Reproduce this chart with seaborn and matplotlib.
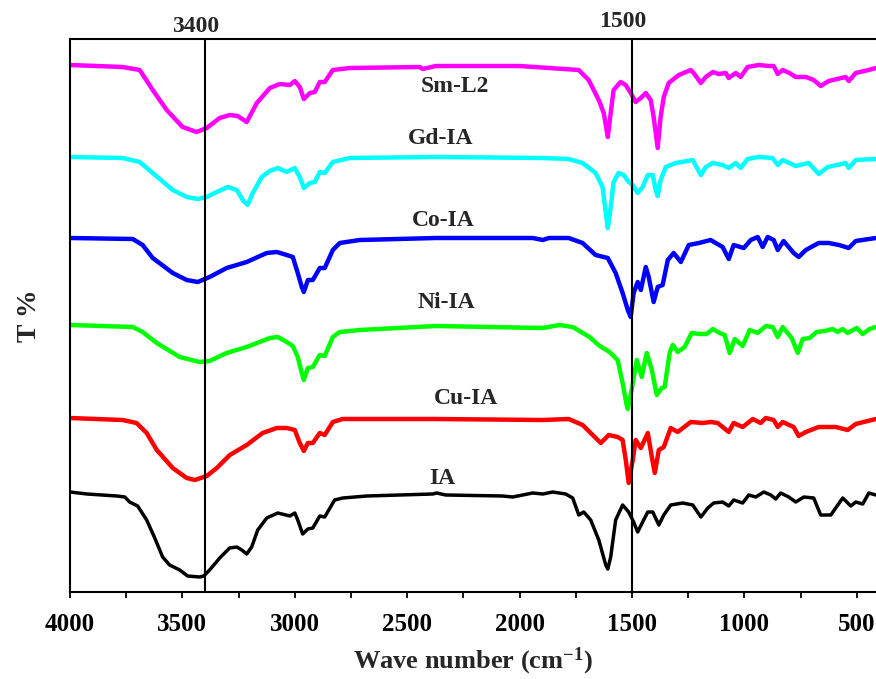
import numpy as np
import pandas as pd
import matplotlib
matplotlib.use("Agg")
import matplotlib.pyplot as plt
import seaborn as sns
from matplotlib.ticker import MultipleLocator

# FTIR spectra, transmittance in arbitrary stacked units
sm_wn = [4000, 3766, 3690, 3632, 3570, 3499, 3437, 3392, 3334, 3290, 3254, 3214, 3169, 3111, 3067, 3022,
         3000, 2978, 2960, 2933, 2911, 2889, 2867, 2831, 2755, 2444, 2431, 2373, 2000, 1737, 1693, 1648,
         1626, 1608, 1595, 1582, 1551, 1528, 1506, 1484, 1461, 1439, 1417, 1404, 1386, 1373, 1359, 1337,
         1292, 1239, 1226, 1194, 1172, 1141, 1115, 1083, 1070, 1039, 1017, 986, 937, 892, 870, 852, 830,
         800, 772, 727, 692, 661, 625, 550, 536, 505, 447, 416]
sm_t = [527, 525, 522, 502, 482, 465, 460, 464, 474, 477, 476, 470, 489, 504, 508, 507,
        511, 505, 493, 499, 500, 510, 510, 522, 524, 525, 523, 526, 526, 522, 512, 492,
        479, 455, 479, 502, 510, 507, 499, 490, 494, 499, 492, 475, 444, 475, 495, 509,
        517, 522, 519, 509, 515, 520, 518, 519, 514, 519, 515, 525, 527, 526, 526, 518, 522,
        519, 515, 515, 512, 506, 511, 515, 511, 519, 522, 524]

gd_wn = [4000, 3766, 3690, 3632, 3543, 3481, 3432, 3392, 3347, 3298, 3258, 3232, 3210, 3187, 3147, 3111,
         3076, 3036, 3000, 2978, 2960, 2933, 2911, 2889, 2867, 2831, 2755,
         2373, 1897, 1782, 1720, 1662, 1631, 1617, 1608, 1595, 1582, 1560, 1537, 1515, 1497, 1475, 1453,
         1430, 1408, 1395, 1386, 1373, 1350, 1306, 1230, 1194, 1172, 1141, 1097, 1070, 1039, 1017, 986,
         937, 875, 852, 830, 772, 714, 670, 629, 550, 536, 505, 416]
gd_t = [435, 434, 430, 419, 402, 395, 393, 395, 400, 405, 402, 392, 387, 399, 415, 421,
        424, 420, 424, 415, 404, 409, 410, 420, 419, 430, 434,
        435, 434, 433, 429, 419, 405, 379, 364, 385, 410, 419, 417, 410, 407, 399, 405,
        417, 417, 402, 396, 412, 425, 429, 432, 417, 425, 429, 427, 424, 429, 424, 433,
        435, 434, 427, 432, 426, 429, 418, 425, 429, 424, 432, 433]

co_wn = [4000, 3721, 3677, 3632, 3543, 3481, 3432, 3379, 3303, 3214, 3125, 3080, 3036, 3009, 2987, 2969,
         2960, 2942, 2920, 2889, 2867, 2831, 2800, 2711,
         2373, 1942, 1897, 1870, 1782, 1720, 1662, 1608, 1573, 1542, 1519, 1506, 1493, 1475, 1461, 1439,
         1426, 1404, 1386, 1364, 1341, 1315, 1283, 1248, 1203, 1150, 1128, 1097, 1070, 1048, 1003, 972,
         941, 919, 897, 870, 852, 826, 781, 759, 727, 670, 625, 580, 536, 505, 416]
co_t = [354, 353, 347, 334, 319, 312, 310, 315, 324, 330, 339, 340, 337, 335, 319, 305,
        300, 312, 312, 324, 324, 342, 349, 352,
        354, 354, 352, 354, 354, 349, 337, 334, 319, 299, 282, 275, 299, 310, 302, 325,
        315, 290, 305, 307, 332, 339, 330, 347, 349, 352, 349, 345, 333, 347, 344, 352,
        355, 345, 355, 352, 342, 351, 339, 335, 342, 349, 349, 347, 344, 351, 354]

ni_wn = [4000, 3721, 3677, 3614, 3512, 3423, 3379, 3303, 3214, 3111, 3076, 3036, 3009, 2987, 2969, 2960,
         2942, 2920, 2889, 2867, 2831, 2800, 2711, 2373, 1897,
         1822, 1764, 1689, 1644, 1600, 1564, 1542, 1524, 1519, 1502, 1479, 1457, 1435, 1412, 1390, 1368,
         1355, 1332, 1319, 1297, 1266, 1235, 1199, 1168, 1141, 1110, 1088, 1066, 1043, 1008, 977, 941,
         905, 874, 852, 830, 790, 763, 741, 710, 679, 643, 608, 585, 563, 541, 501, 474, 443, 416]
ni_t = [267, 265, 260, 249, 235, 230, 231, 239, 245, 254, 255, 250, 246, 235, 219, 212,
        224, 225, 237, 236, 255, 260, 262, 266, 264,
        267, 265, 255, 246, 240, 232, 209, 187, 183, 202, 232, 215, 239, 222, 197, 204,
        205, 240, 247, 240, 245, 259, 258, 258, 263, 259, 257, 239, 253, 246, 262, 259,
        266, 265, 255, 265, 254, 239, 253, 254, 260, 261, 263, 260, 263, 259, 264, 258, 263, 265]

cu_wn = [4000, 3766, 3704, 3659, 3614, 3543, 3481, 3445, 3392, 3347, 3289, 3214, 3143, 3080, 3036, 3000,
         2978, 2960, 2942, 2920, 2889, 2867, 2831, 2787,
         2373, 1897, 1782, 1720, 1675, 1639, 1604, 1564, 1542, 1528, 1515, 1497, 1484, 1461, 1430, 1412,
         1399, 1381, 1359, 1328, 1297, 1239, 1186, 1150, 1119, 1070, 1048, 1008, 963, 928, 905, 870,
         852, 830, 781, 759, 727, 670, 594, 541, 505, 416]
cu_t = [174, 172, 169, 159, 142, 124, 114, 112, 116, 124, 137, 147, 159, 164, 164, 162,
        149, 141, 149, 149, 159, 157, 170, 173,
        173, 172, 173, 167, 157, 149, 157, 155, 152, 132, 109, 132, 152, 144, 159, 135,
        119, 142, 145, 164, 160, 170, 169, 170, 169, 160, 169, 165, 173, 169, 174, 172,
        165, 170, 165, 156, 160, 165, 165, 162, 168, 173]

ia_wn = [4000, 3924, 3791, 3756, 3735, 3699, 3659, 3623, 3588, 3557, 3512, 3477, 3423, 3405, 3379, 3334,
         3290, 3258, 3236, 3214, 3192, 3165, 3125, 3076, 3022, 3000, 2987, 2965, 2942, 2920, 2889, 2867,
         2823, 2787, 2680, 2387,
         2369, 2329, 2076, 2031, 1942, 1897, 1853, 1795, 1764, 1737, 1715, 1684, 1648, 1617, 1608, 1595,
         1573, 1542, 1515, 1493, 1475, 1453, 1430, 1408, 1381, 1359, 1328, 1275, 1230, 1194, 1163, 1137,
         1097, 1070, 1048, 1008, 981, 950, 914, 883, 861, 839, 803, 772, 736, 692, 661, 616, 563, 527,
         505, 474, 447, 416]
ia_t = [100, 98, 96, 95, 90, 86, 72, 54, 35, 27, 22, 16, 15, 16, 22, 34,
        44, 45, 42, 38, 45, 62, 74, 79, 76, 79, 72, 58, 63, 64, 76, 75,
        92, 94, 96, 98,
        99, 97, 96, 95, 99, 98, 100, 98, 94, 77, 80, 72, 52, 27, 23, 35,
        72, 87, 80, 70, 60, 70, 80, 80, 67, 77, 87, 89, 87, 75, 84, 89,
        90, 86, 92, 89, 97, 95, 100, 97, 93, 99, 95, 90, 95, 94, 77, 77, 94, 86,
        90, 88, 99, 97]

names = ["Sm-L2", "Gd-IA", "Co-IA", "Ni-IA", "Cu-IA", "IA"]
colors = ["#ff00ff", "#00ffff", "#0000ff", "#00ff00", "#ff0000", "#000000"]
label_wn = [2289, 2351, 2338, 2324, 2240, 2342]
label_t = [506, 454, 371, 289, 193, 114]
marker_lines = [3400, 1500]
marker_label_y = [1.022, 1.032]

spectra = [(sm_wn, sm_t), (gd_wn, gd_t), (co_wn, co_t), (ni_wn, ni_t), (cu_wn, cu_t), (ia_wn, ia_t)]

sns.set_style("white")
plt.rcParams["font.family"] = ["Liberation Serif", "DejaVu Serif"]
plt.rcParams["font.weight"] = "bold"
plt.rcParams["mathtext.fontset"] = "custom"
plt.rcParams["mathtext.rm"] = "Liberation Serif:bold"
plt.rcParams["mathtext.it"] = "Liberation Serif:bold"
plt.rcParams["mathtext.bf"] = "Liberation Serif:bold"

fig = plt.figure(figsize=(8.76, 6.79), dpi=100)
ax = fig.add_axes([70 / 876, 87 / 679, 806 / 876, 553 / 679])

for (wn, t), name, c in zip(spectra, names, colors):
    df = pd.DataFrame({"wn": wn, "T": t})
    lw = 2.5 if name == "IA" else 3.2
    sns.lineplot(data=df, x="wn", y="T", color=c, lw=lw, ax=ax, sort=False, estimator=None)

for wn, yl in zip(marker_lines, marker_label_y):
    ax.axvline(wn, color="black", lw=1.5, zorder=5)
    ax.text(wn + 40, yl, str(wn), transform=ax.get_xaxis_transform(),
            ha="center", va="center", fontsize=17, fontweight="bold")

for name, x, y in zip(names, label_wn, label_t):
    ax.text(x, y, name, ha="center", va="center", fontsize=17, fontweight="bold")

ax.set_xlim(4000, 415)
ax.set_ylim(0, 553)
ax.set_yticks([])
ax.xaxis.set_major_locator(MultipleLocator(500))
ax.xaxis.set_minor_locator(MultipleLocator(250))
ax.tick_params(axis="x", which="both", direction="out", length=4, width=1.3,
               bottom=True, top=False, labelsize=18, pad=11, colors="black")
for lab in ax.get_xticklabels():
    lab.set_fontweight("bold")
for side in ["left", "bottom", "top"]:
    ax.spines[side].set_color("black")
    ax.spines[side].set_linewidth(1.5)
ax.spines["right"].set_visible(False)

ax.set_xlabel("Wave number (cm$^{-1}$)", fontsize=19, fontweight="bold", labelpad=7)
ax.set_ylabel("T %", fontsize=20, fontweight="bold", labelpad=20)

fig.savefig("out.png", dpi=100)
